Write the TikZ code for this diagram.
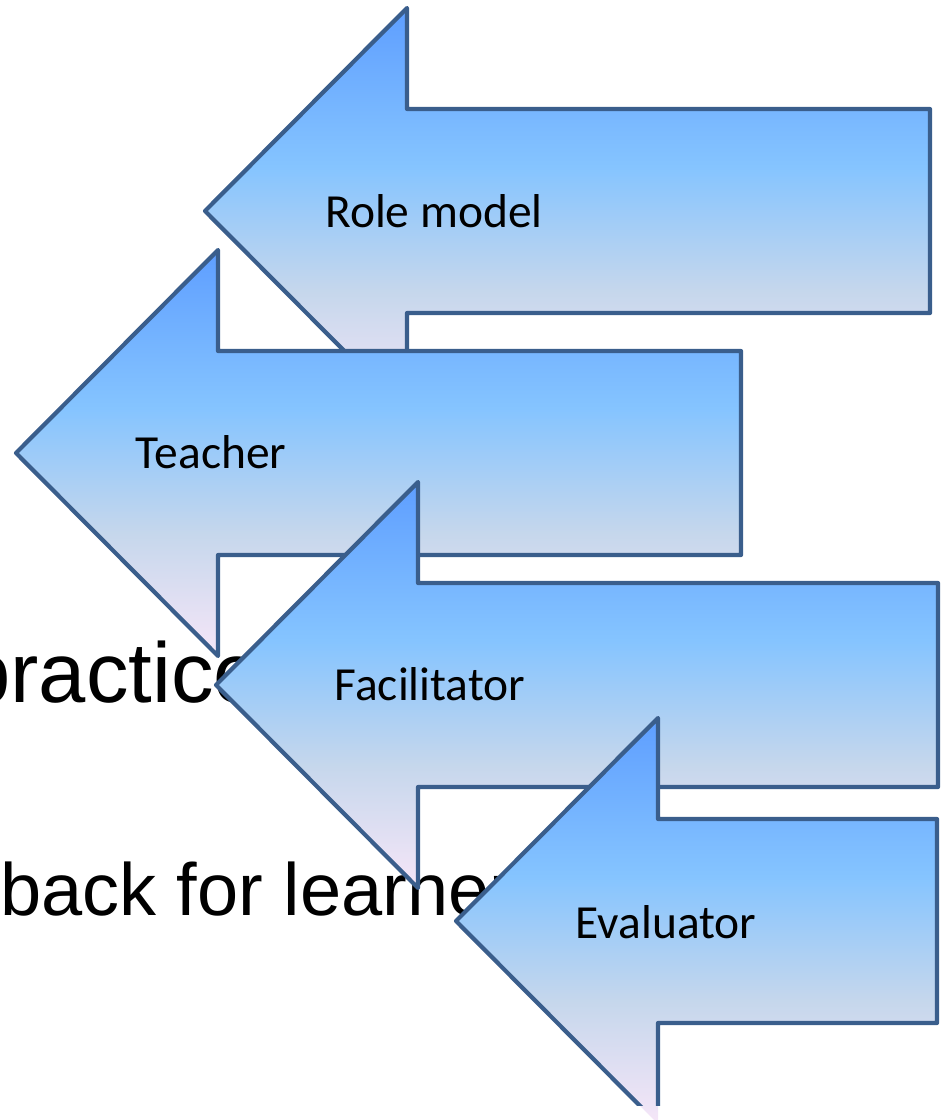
\documentclass[tikz,border=0pt]{standalone}
\usepackage{fontspec}
\setmainfont{Liberation Sans}
\newfontfamily\labelfont{Carlito}

\definecolor{arrowtop}{HTML}{5E9EFF}
\definecolor{arrowmid}{HTML}{85C4FF}
\definecolor{arrowpale}{HTML}{C6D7EC}
\definecolor{arrowpink}{HTML}{F6E6F8}
\definecolor{arrowline}{HTML}{3A5E8C}

% vertical blend; the 25bp..75bp band is stretched over each arrow
\pgfdeclareverticalshading{blueflow}{100bp}{%
  color(0bp)=(arrowpink); color(25bp)=(arrowpink);
  color(40bp)=(arrowpale); color(55.5bp)=(arrowmid);
  color(75bp)=(arrowtop); color(100bp)=(arrowtop)}

% left-pointing block arrow: tip x, tip y, right end x
\newcommand\blockarrow[3]{%
  (#1,#2) -- ({#1+202},{#2-203}) -- ({#1+202},{#2-102})
  -- (#3,{#2-102}) -- (#3,{#2+102}) -- ({#1+202},{#2+102})
  -- ({#1+202},{#2+203}) -- cycle}

\begin{document}
\begin{tikzpicture}[x=1pt,y=-1pt,
  arrowfill/.style={shading=blueflow},
  arrowedge/.style={draw=arrowline,line width=4.2pt,line join=round},
  arrowlabel/.style={font=\labelfont\fontsize{47.5}{57}\selectfont,
    anchor=base,inner sep=0pt,text=black},
  bodytext/.style={anchor=base west,inner sep=0pt,text=black}]
\useasboundingbox (0,0) rectangle (941,1120);
\clip (0,0) rectangle (941,1120);

% slide text lying behind the arrows
\node[bodytext,font=\fontsize{85}{100}\selectfont] (practice) at (-37,702) {practice};
\node[bodytext,font=\fontsize{74}{88}\selectfont] (feedback) at (0,915) {back for learners};

% arrows, each one over the previous
\path[arrowfill,arrowedge] \blockarrow{205}{211}{930};
\node[arrowlabel] (rolemodel) at (434,227) {Role model};

\path[arrowfill,arrowedge] \blockarrow{16}{453}{741};
\node[arrowlabel] (teacher) at (211,468) {Teacher};

\path[arrowfill,arrowedge] \blockarrow{216}{685}{938};
\node[arrowlabel] (facilitator) at (430,700) {Facilitator};

\path[arrowfill] \blockarrow{456}{921}{937};
\begin{scope}
  \clip (0,0) rectangle (941,1105);
  \path[arrowedge] \blockarrow{456}{921}{937};
\end{scope}
\node[arrowlabel] (evaluator) at (666,938) {Evaluator};
\end{tikzpicture}
\end{document}
